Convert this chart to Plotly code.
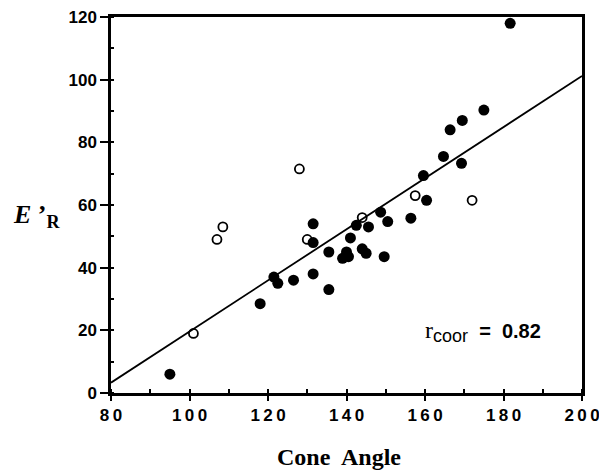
import plotly.graph_objects as go

# Filled circles (cone angle, E'R)
filled_x = [95, 118, 121.5, 122.5, 126.5, 131.5, 131.5, 131.5, 135.5, 135.5, 139, 140, 140.5,
            141, 142.5, 144, 145, 145.6, 148.7, 150.5, 149.6, 156.4, 160.4, 159.6, 164.7,
            169.3, 166.4, 169.5, 175, 181.7]
filled_y = [6, 28.5, 37, 35, 36, 38, 54, 48, 45, 33, 43, 45, 43.5,
            49.5, 53.5, 46, 44.6, 53, 57.7, 54.7, 43.5, 55.8, 61.5, 69.4, 75.5,
            73.3, 84, 87, 90.3, 118]

# Open circles
open_x = [101, 107, 108.5, 128, 130, 144, 157.5, 172]
open_y = [19, 49, 53, 71.5, 49, 56, 63, 61.5]

# Regression line end points
fit_x = [80, 200]
fit_y = [3.3, 101.2]

x_ticks = [80, 100, 120, 140, 160, 180, 200]
x_tick_text = ["8\u20090", "1\u20090\u20090", "1\u20092\u20090", "1\u20094\u20090",
               "1\u20096\u20090", "1\u20098\u20090", "2\u20090\u20090"]
y_ticks = [0, 20, 40, 60, 80, 100, 120]

fig = go.Figure()
fig.add_trace(go.Scatter(x=fit_x, y=fit_y, mode="lines",
                         line=dict(color="black", width=1.8), showlegend=False))
fig.add_trace(go.Scatter(x=open_x, y=open_y, mode="markers", cliponaxis=False,
                         marker=dict(symbol="circle-open", size=9, color="black",
                                     line=dict(width=1.8, color="black")),
                         showlegend=False))
fig.add_trace(go.Scatter(x=filled_x, y=filled_y, mode="markers", cliponaxis=False,
                         marker=dict(symbol="circle", size=11, color="black"),
                         showlegend=False))

axis_common = dict(showline=True, linecolor="black", linewidth=2.5, mirror=True,
                   showgrid=False, zeroline=False, ticks="outside", tickcolor="black",
                   tickwidth=2, ticklabeloverflow="allow", automargin=False,
                   tickfont=dict(family="Liberation Sans", size=17, color="black",
                                 weight="bold"))

fig.update_xaxes(range=[80, 200], tickmode="array", tickvals=x_ticks, ticktext=x_tick_text,
                 ticklen=5,
                 minor=dict(dtick=10, ticks="inside", ticklen=4, tickcolor="black", tickwidth=1.5),
                 **axis_common)
fig.update_yaxes(range=[0, 120], tickmode="array", tickvals=y_ticks,
                 ticklen=8,
                 minor=dict(dtick=10, ticks="inside", ticklen=3, tickcolor="black", tickwidth=1.5),
                 **axis_common)

fig.update_layout(
    width=599, height=470,
    margin=dict(l=111, r=17, t=17, b=77),
    paper_bgcolor="white", plot_bgcolor="white",
    annotations=[
        dict(text="<b>Cone  Angle</b>", xref="paper", yref="paper", x=0.485, y=-0.17,
             xanchor="center", yanchor="middle", showarrow=False,
             font=dict(family="Liberation Serif", size=24, color="black")),
        dict(text="<b><i>E</i> \u2019</b><sub><b>R</b></sub>", xref="paper", yref="paper",
             x=-0.157, y=0.47, xanchor="center", yanchor="middle", showarrow=False,
             font=dict(family="Liberation Serif", size=26, color="black")),
        dict(text="<span style='font-family:Liberation Serif;font-size:24px'>r</span>"
                  "<sub><span style='font-size:18px'>coor</span></sub>  <b>=  0.82</b>",
             xref="x", yref="y",
             x=159.5, y=19.5, xanchor="left", yanchor="middle", showarrow=False,
             font=dict(family="Liberation Sans", size=20, color="black")),
    ],
)

fig.write_html("out.html",
               config={"displayModeBar": False},
               post_script="document.body.style.margin='0';"
                           "document.body.style.overflow='hidden';")
